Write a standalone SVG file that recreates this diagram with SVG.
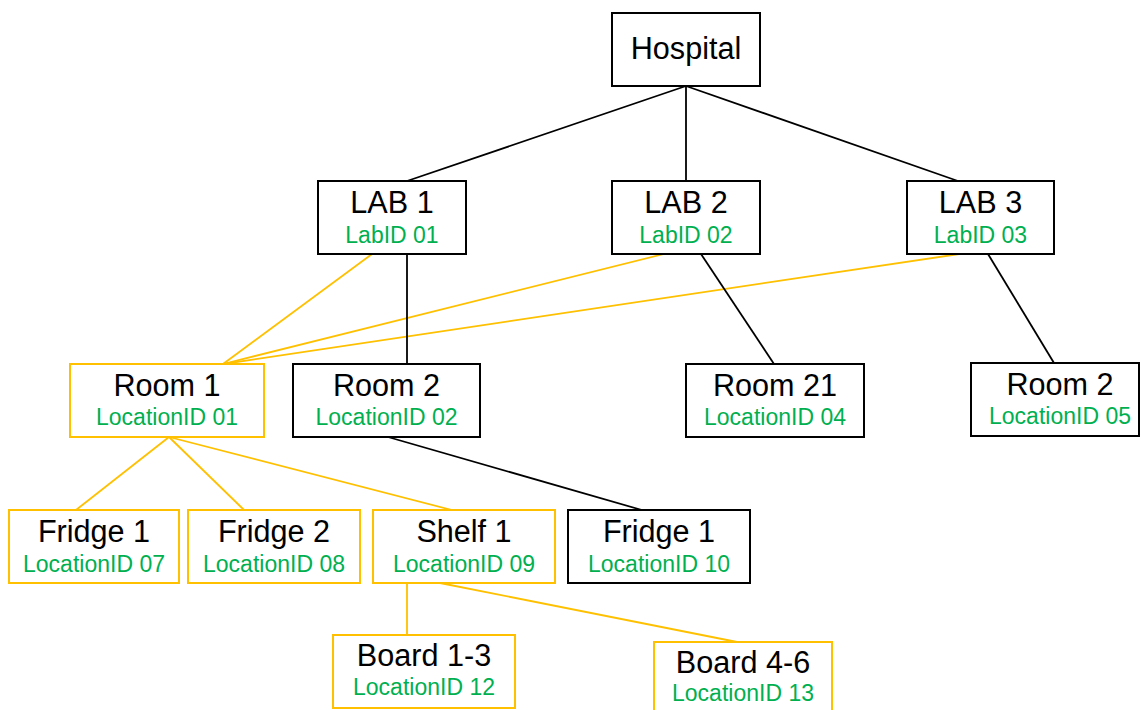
<svg xmlns="http://www.w3.org/2000/svg" width="1141" height="710" viewBox="0 0 1141 710">
  <style>
    .box { fill: #ffffff; stroke-width: 2; }
    .k { stroke: #000000; }
    .o { stroke: #FFC000; }
    .title { font-family: "Liberation Sans", Arial, sans-serif; font-size: 30.6px; fill: #000000; text-anchor: middle; }
    .id { font-family: "Liberation Sans", Arial, sans-serif; font-size: 23px; fill: #00B050; text-anchor: middle; }
    .edge { fill: none; stroke-width: 1.8; }
  </style>
  <rect width="1141" height="710" fill="#ffffff"/>

  <!-- connectors -->
  <g id="connectors">
    <line class="edge k" x1="686" y1="86" x2="407" y2="181"/>
    <line class="edge k" x1="686" y1="86" x2="686" y2="181"/>
    <line class="edge k" x1="686" y1="86" x2="958" y2="181"/>
    <line class="edge o" x1="372" y1="254" x2="223" y2="364"/>
    <line class="edge o" x1="664" y1="254" x2="223" y2="364"/>
    <line class="edge o" x1="959" y1="254" x2="223" y2="364"/>
    <line class="edge k" x1="407" y1="254" x2="407" y2="364"/>
    <line class="edge k" x1="701" y1="254" x2="774" y2="364"/>
    <line class="edge k" x1="988" y1="254" x2="1054" y2="363"/>
    <line class="edge o" x1="169" y1="437" x2="76" y2="510"/>
    <line class="edge o" x1="169" y1="437" x2="244" y2="510"/>
    <line class="edge o" x1="169" y1="437" x2="452" y2="510"/>
    <line class="edge k" x1="388" y1="437" x2="642" y2="510"/>
    <line class="edge o" x1="407" y1="583" x2="407" y2="635"/>
    <line class="edge o" x1="440" y1="583" x2="737" y2="642"/>
  </g>

  <g id="hospital">
    <rect class="box k" x="612" y="13" width="148" height="73"/>
    <text class="title" x="686" y="59">Hospital</text>
  </g>

  <g id="lab1">
    <rect class="box k" x="318" y="181" width="148" height="73"/>
    <text class="title" x="392" y="213">LAB 1</text>
    <text class="id" x="392" y="243">LabID 01</text>
  </g>
  <g id="lab2">
    <rect class="box k" x="612" y="181" width="148" height="73"/>
    <text class="title" x="686" y="213">LAB 2</text>
    <text class="id" x="686" y="243">LabID 02</text>
  </g>
  <g id="lab3">
    <rect class="box k" x="907" y="181" width="147" height="73"/>
    <text class="title" x="980.5" y="213">LAB 3</text>
    <text class="id" x="980.5" y="243">LabID 03</text>
  </g>

  <g id="room1">
    <rect class="box o" x="70" y="364" width="194" height="73"/>
    <text class="title" x="167" y="396">Room 1</text>
    <text class="id" x="167" y="425">LocationID 01</text>
  </g>
  <g id="room2">
    <rect class="box k" x="293" y="364" width="187" height="73"/>
    <text class="title" x="386.5" y="396">Room 2</text>
    <text class="id" x="386.5" y="425">LocationID 02</text>
  </g>
  <g id="room21">
    <rect class="box k" x="686" y="364" width="178" height="73"/>
    <text class="title" x="775" y="396">Room 21</text>
    <text class="id" x="775" y="425">LocationID 04</text>
  </g>
  <g id="room2-lab3">
    <rect class="box k" x="971" y="363" width="168" height="73"/>
    <text class="title" x="1060" y="395">Room 2</text>
    <text class="id" x="1060" y="424">LocationID 05</text>
  </g>

  <g id="fridge1">
    <rect class="box o" x="9" y="510" width="170" height="73"/>
    <text class="title" x="94" y="542">Fridge 1</text>
    <text class="id" x="94" y="572">LocationID 07</text>
  </g>
  <g id="fridge2">
    <rect class="box o" x="188" y="510" width="172" height="73"/>
    <text class="title" x="274" y="542">Fridge 2</text>
    <text class="id" x="274" y="572">LocationID 08</text>
  </g>
  <g id="shelf1">
    <rect class="box o" x="373" y="510" width="182" height="73"/>
    <text class="title" x="464" y="542">Shelf 1</text>
    <text class="id" x="464" y="572">LocationID 09</text>
  </g>
  <g id="fridge1-room2">
    <rect class="box k" x="568" y="510" width="182" height="73"/>
    <text class="title" x="659" y="542">Fridge 1</text>
    <text class="id" x="659" y="572">LocationID 10</text>
  </g>

  <g id="board1-3">
    <rect class="box o" x="333" y="635" width="182" height="73"/>
    <text class="title" x="424" y="666">Board 1-3</text>
    <text class="id" x="424" y="695">LocationID 12</text>
  </g>
  <g id="board4-6">
    <rect class="box o" x="654" y="642" width="178" height="73"/>
    <text class="title" x="743" y="673">Board 4-6</text>
    <text class="id" x="743" y="701">LocationID 13</text>
  </g>
</svg>
